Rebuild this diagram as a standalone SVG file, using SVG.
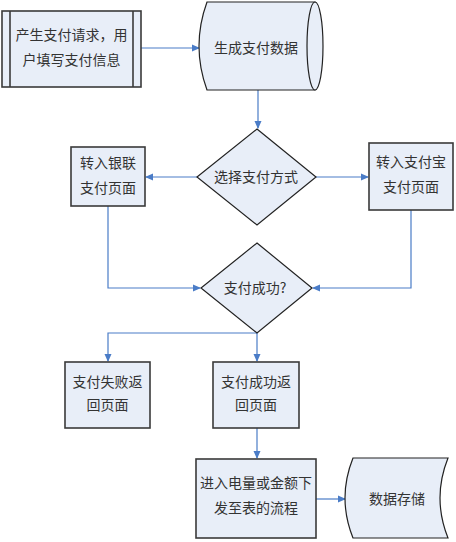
<svg xmlns="http://www.w3.org/2000/svg" width="456" height="542" viewBox="0 0 456 542">
<style>
.n{fill:#E8EEF8;stroke:#3a3a3a;stroke-width:1.6}
.s{fill:#E8EEF8;stroke:#222;stroke-width:1.2}
.t{font-family:"Noto Sans CJK SC","Noto Sans",sans-serif;font-size:14px;fill:#333;text-anchor:middle}
.c{fill:none;stroke:#4A7CC7;stroke-width:1.2;marker-end:url(#a)}
.c2{fill:none;stroke:#4A7CC7;stroke-width:1.2}
</style>
<defs>
<marker id="a" markerWidth="8" markerHeight="8" refX="7" refY="4" orient="auto" markerUnits="userSpaceOnUse">
<path d="M0,0.5 L8,4 L0,7.5 Z" fill="#4A7CC7"/>
</marker>
</defs>
<rect width="456" height="542" fill="#fff"/>
<g id="connectors">
<path class="c" d="M141,48 H199"/>
<path class="c" d="M258,90 V128"/>
<path class="c" d="M197,177 H146"/>
<path class="c" d="M316,177 H368"/>
<path class="c" d="M108,206 V288 H200"/>
<path class="c" d="M411,210 V288 H313"/>
<path class="c" d="M257,333 V361"/>
<path class="c" d="M257,333 H108 V361"/>
<path class="c" d="M257,428 V458"/>
<path class="c" d="M316,499 H345"/>
</g>
<g id="n1">
<rect class="n" x="2" y="11" width="139" height="76"/>
<line x1="10" y1="11" x2="10" y2="87" stroke="#3a3a3a" stroke-width="1.6"/>
<line x1="133" y1="11" x2="133" y2="87" stroke="#3a3a3a" stroke-width="1.6"/>
<text class="t" x="71.5" y="40">产生支付请求，用</text>
<text class="t" x="71.5" y="65">户填写支付信息</text>
</g>
<g id="n2">
<path class="s" d="M207,2 H315 V90 H207 Q191,46 207,2 Z"/>
<ellipse class="s" cx="315" cy="46" rx="8" ry="44"/>
<text class="t" x="256" y="53">生成支付数据</text>
</g>
<g id="n3">
<path class="s" d="M257,129 L316,177 L257,225 L197,177 Z"/>
<text class="t" x="256" y="182">选择支付方式</text>
</g>
<g id="n4">
<rect class="n" x="71" y="147" width="74" height="59"/>
<text class="t" x="108" y="168">转入银联</text>
<text class="t" x="108" y="193">支付页面</text>
</g>
<g id="n5">
<rect class="n" x="369" y="143" width="84" height="67"/>
<text class="t" x="411" y="167">转入支付宝</text>
<text class="t" x="411" y="192">支付页面</text>
</g>
<g id="n6">
<path class="s" d="M257,243 L312,288 L257,333 L201,288 Z"/>
<text class="t" x="255" y="293">支付成功?</text>
</g>
<g id="n7">
<rect class="n" x="65" y="362" width="85" height="66"/>
<text class="t" x="107.5" y="387">支付失败返</text>
<text class="t" x="107.5" y="410">回页面</text>
</g>
<g id="n8">
<rect class="n" x="213" y="362" width="86" height="66"/>
<text class="t" x="256" y="387">支付成功返</text>
<text class="t" x="256" y="410">回页面</text>
</g>
<g id="n9">
<rect class="n" x="196" y="459" width="120" height="79"/>
<text class="t" x="256" y="488">进入电量或金额下</text>
<text class="t" x="256" y="513">发至表的流程</text>
</g>
<g id="n10">
<path class="s" d="M353,458 H448 Q432,498 448,538 H353 Q337,498 353,458 Z"/>
<text class="t" x="397" y="504">数据存储</text>
</g>
</svg>
